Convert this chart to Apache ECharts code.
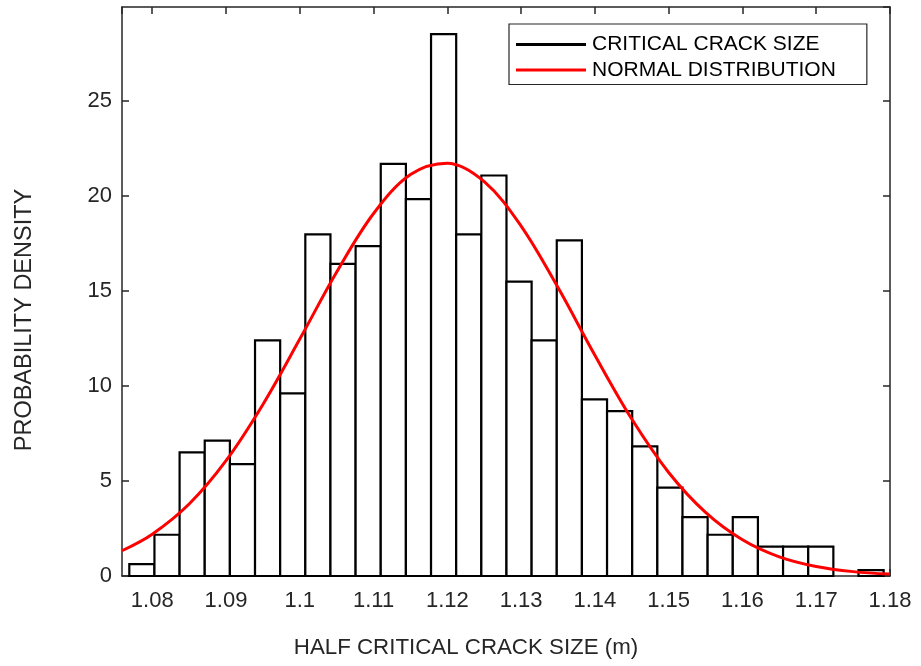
<!DOCTYPE html>
<html>
<head>
<meta charset="utf-8">
<title>Half critical crack size histogram</title>
<script src="https://cdn.jsdelivr.net/npm/echarts@6/dist/echarts.min.js"></script>
<style>
  html, body { margin: 0; padding: 0; background: #fff; }
  #chart { width: 921px; height: 666px; }
</style>
</head>
<body>
<div id="chart"></div>
<script>
// Histogram: 30 equal bins, first left edge and bin width (m)
var binStart = 1.07689;
var binWidth = 0.0034083;
// Probability density of each bin
var binDensity = [
  0.62, 2.17, 6.51, 7.13, 5.89, 12.40, 9.61, 17.98, 16.43, 17.36,
  21.69, 19.84, 28.52, 17.98, 21.08, 15.50, 12.40, 17.67, 9.30, 8.68,
  6.82, 4.65, 3.10, 2.17, 3.10, 1.55, 1.55, 1.55, 0.00, 0.31
];

// Fitted normal distribution curve, sampled points
var curveX = [1.0759, 1.080, 1.085, 1.090, 1.095, 1.100, 1.105, 1.110, 1.115, 1.120,
              1.125, 1.130, 1.135, 1.140, 1.145, 1.150, 1.155, 1.160, 1.165, 1.170,
              1.175, 1.180];
var curveY = [1.33, 2.20, 3.79, 6.07, 9.03, 12.47, 16.00, 19.08, 21.13, 21.73,
              20.76, 18.42, 15.18, 11.62, 8.26, 5.45, 3.35, 1.91, 1.01, 0.50,
              0.23, 0.10];

var xMin = 1.0759, xMax = 1.18;
var yMin = 0, yMax = 29.95, yStep = 5;

var FONT = '"Liberation Sans", Arial, Helvetica, sans-serif';
var AXIS_COLOR = '#262626';

var barData = binDensity.map(function (d, i) {
  var left = binStart + i * binWidth;
  return [left, left + binWidth, d];
});
var curveData = curveX.map(function (x, i) { return [x, curveY[i]]; });

function xLabel(v) {
  var r = Math.round(v * 100);
  if (Math.abs(v * 100 - r) > 1e-6) return '';
  return String(+(r / 100).toFixed(2));
}

var axisLine = { show: true, onZero: false, lineStyle: { color: AXIS_COLOR, width: 1.5 } };
var axisTick = { show: true, inside: true, length: 7, lineStyle: { color: AXIS_COLOR, width: 1.5 } };

var chart = echarts.init(document.getElementById('chart'), null, { renderer: 'canvas' });
chart.setOption({
  animation: false,
  backgroundColor: '#fff',
  textStyle: { fontFamily: FONT },
  grid: { left: 122, top: 7, right: 31, bottom: 90, containLabel: false },
  xAxis: [
    {
      type: 'value', min: xMin, max: xMax, splitNumber: 10, position: 'bottom',
      axisLine: axisLine, axisTick: axisTick, splitLine: { show: false },
      axisLabel: { margin: 14, color: AXIS_COLOR, fontSize: 22, fontFamily: FONT,
                   formatter: xLabel, showMinLabel: false }
    },
    {
      type: 'value', min: xMin, max: xMax, splitNumber: 10, position: 'top',
      axisLine: axisLine, axisTick: axisTick, splitLine: { show: false },
      axisLabel: { show: false }
    }
  ],
  yAxis: [
    {
      type: 'value', min: yMin, max: yMax, interval: yStep, position: 'left',
      axisLine: axisLine, axisTick: axisTick, splitLine: { show: false },
      axisLabel: { margin: 10, color: AXIS_COLOR, fontSize: 22, fontFamily: FONT, showMaxLabel: false }
    },
    {
      type: 'value', min: yMin, max: yMax, interval: yStep, position: 'right',
      axisLine: axisLine, axisTick: axisTick, splitLine: { show: false },
      axisLabel: { show: false }
    }
  ],
  legend: {
    orient: 'vertical',
    left: 509, top: 24,
    padding: [10, 31, 4, 7],
    itemGap: 4.5,
    itemWidth: 70, itemHeight: 3,
    backgroundColor: '#fff',
    borderColor: AXIS_COLOR, borderWidth: 1.2, borderRadius: 0,
    textStyle: { fontSize: 21, color: '#000', fontFamily: FONT, padding: [0, 0, 0, 1] },
    data: [
      { name: 'CRITICAL CRACK SIZE', icon: 'rect', itemStyle: { color: '#000' } },
      { name: 'NORMAL DISTRIBUTION', icon: 'rect', itemStyle: { color: '#ff0000' } }
    ]
  },
  graphic: [
    {
      type: 'text', x: 466, y: 648,
      style: { text: 'HALF CRITICAL CRACK SIZE (m)', font: '22.3px ' + FONT, fill: AXIS_COLOR,
               textAlign: 'center', textVerticalAlign: 'middle' }
    },
    {
      type: 'text', x: 25, y: 320, rotation: Math.PI / 2,
      style: { text: 'PROBABILITY DENSITY', font: '23.5px ' + FONT, fill: AXIS_COLOR,
               textAlign: 'center', textVerticalAlign: 'middle' }
    }
  ],
  series: [
    {
      name: 'CRITICAL CRACK SIZE',
      type: 'custom',
      xAxisIndex: 0, yAxisIndex: 0,
      data: barData,
      encode: { x: [0, 1], y: 2 },
      itemStyle: { color: '#000' },
      renderItem: function (params, api) {
        var h = api.value(2);
        if (h <= 0) return null;
        var p0 = api.coord([api.value(0), h]);
        var p1 = api.coord([api.value(1), 0]);
        return {
          type: 'rect',
          shape: { x: p0[0], y: p0[1], width: p1[0] - p0[0], height: p1[1] - p0[1] },
          style: { fill: '#fff', stroke: '#000', lineWidth: 2.2 }
        };
      },
      z: 2
    },
    {
      name: 'NORMAL DISTRIBUTION',
      type: 'line',
      xAxisIndex: 0, yAxisIndex: 0,
      data: curveData,
      smooth: 0.35,
      showSymbol: false,
      lineStyle: { color: '#ff0000', width: 3 },
      itemStyle: { color: '#ff0000' },
      z: 3
    }
  ]
});
</script>
</body>
</html>
